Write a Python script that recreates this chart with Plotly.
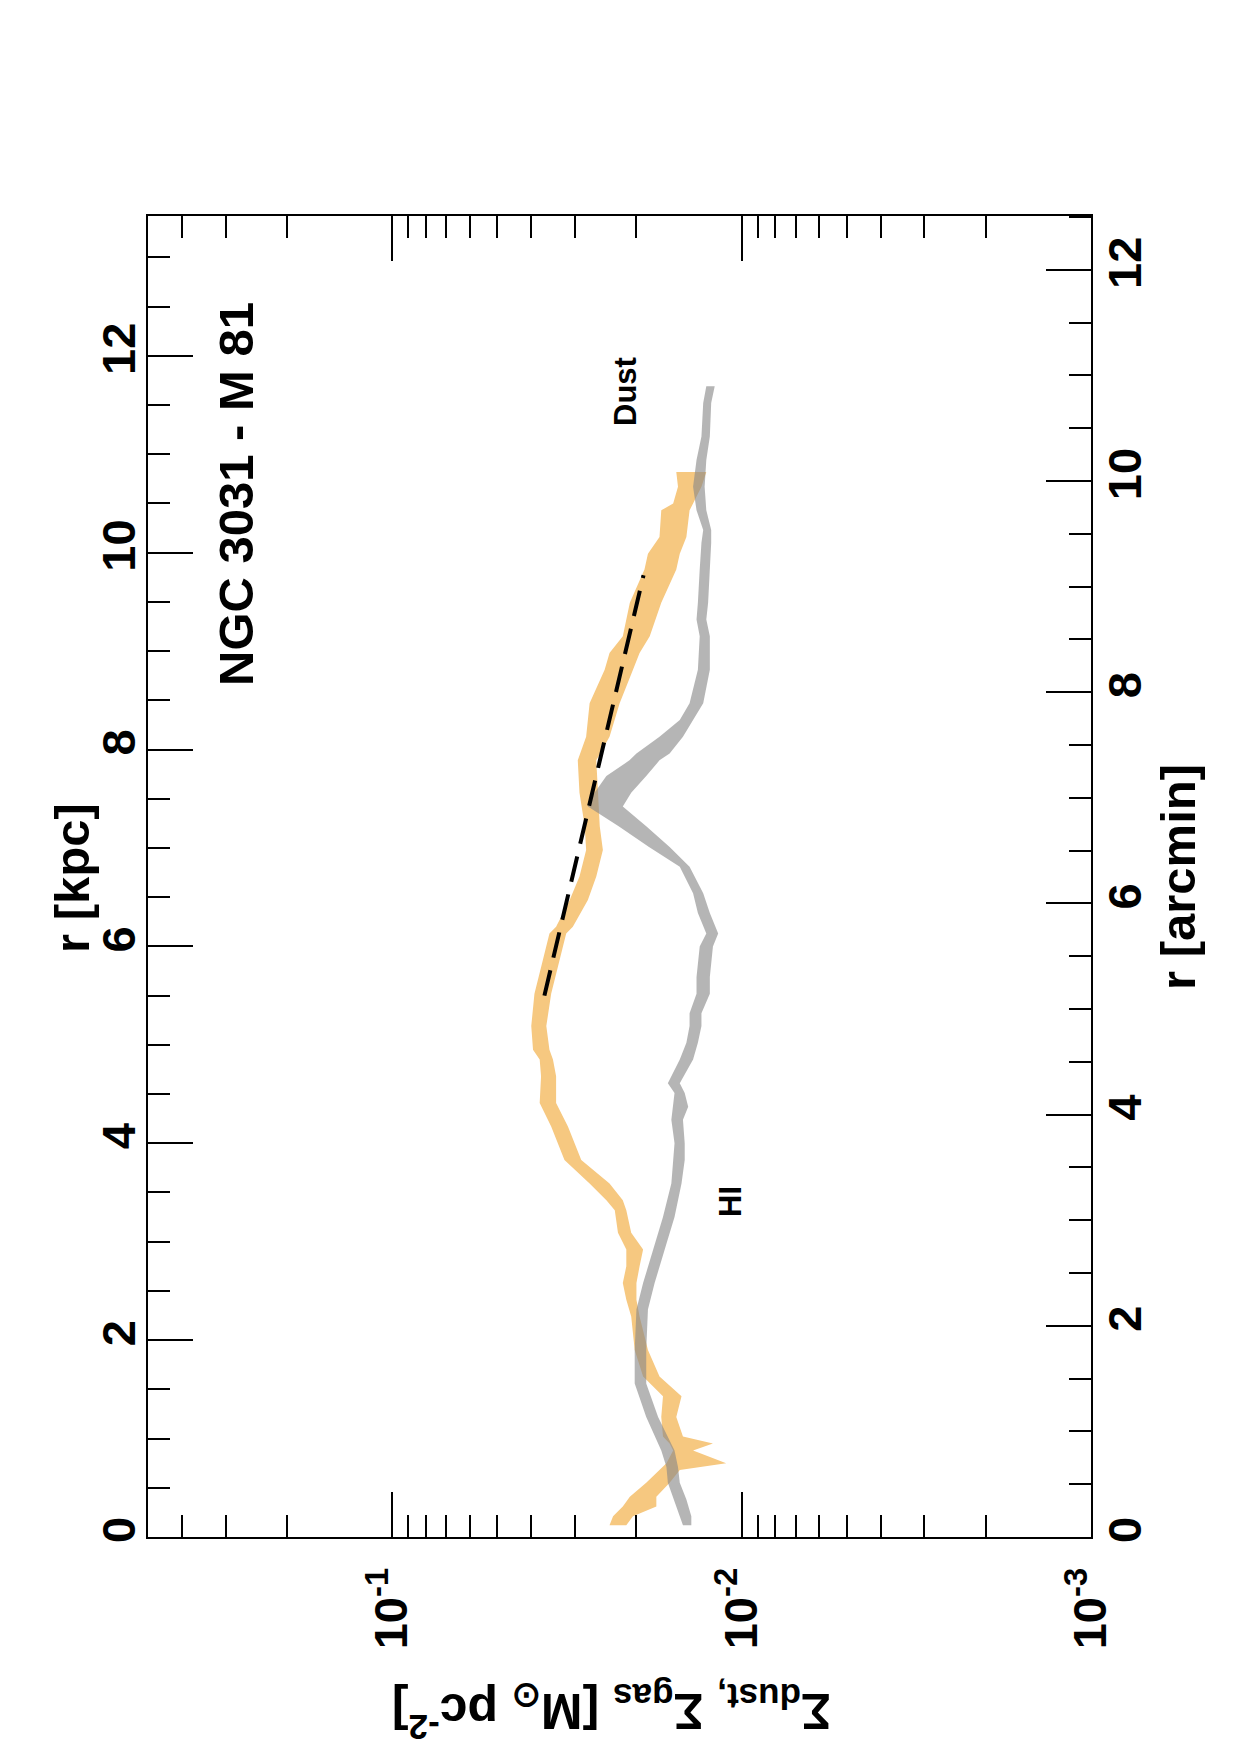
import plotly.graph_objects as go

# ---------------- data ----------------
# HI (grey band): radius [kpc], upper and lower surface density [Msun pc^-2]
r_hi = [0.12, 0.21, 0.38, 0.55, 0.71, 0.88, 1.22, 1.56, 1.90, 2.31, 2.58, 2.92,
        3.25, 3.59, 3.83, 4.00, 4.24, 4.37, 4.51, 4.61, 4.85, 5.02, 5.19, 5.32,
        5.52, 5.69, 6.00, 6.13, 6.34, 6.54, 6.81, 7.01, 7.22, 7.42, 7.56, 7.73,
        7.89, 7.96, 8.13, 8.30, 8.47, 8.81, 9.15, 9.32, 9.49, 9.83, 10.10, 10.23,
        10.43, 10.67, 10.94, 11.18, 11.52, 11.69]
hi_upper = [0.01472, 0.01503, 0.01570, 0.01626, 0.01641, 0.01698, 0.01875, 0.02023,
            0.02023, 0.02000, 0.01914, 0.01795, 0.01679, 0.01589, 0.01570, 0.01556,
            0.01589, 0.01570, 0.01556, 0.01626, 0.01503, 0.01439, 0.01409, 0.01409,
            0.01346, 0.01346, 0.01318, 0.01262, 0.01334, 0.01377, 0.01503, 0.01841,
            0.02249, 0.02754, 0.02636, 0.02438, 0.02094, 0.02000, 0.01718, 0.01503,
            0.01409, 0.01334, 0.01318, 0.01346, 0.01334, 0.01318, 0.01303, 0.01288,
            0.01346, 0.01377, 0.01346, 0.01303, 0.01288, 0.01262]
hi_lower = [0.01393, 0.01393, 0.01439, 0.01503, 0.01521, 0.01556, 0.01734, 0.01875,
            0.01875, 0.01854, 0.01774, 0.01660, 0.01556, 0.01486, 0.01455, 0.01455,
            0.01472, 0.01422, 0.01455, 0.01503, 0.01377, 0.01334, 0.01303, 0.01303,
            0.01233, 0.01233, 0.01208, 0.01167, 0.01233, 0.01288, 0.01409, 0.01607,
            0.01875, 0.02188, 0.02070, 0.01875, 0.01718, 0.01607, 0.01472, 0.01377,
            0.01288, 0.01233, 0.01233, 0.01262, 0.01247, 0.01233, 0.01222, 0.01222,
            0.01262, 0.01276, 0.01262, 0.01233, 0.01222, 0.01194]

# Dust (orange band)
r_dust = [0.12, 0.21, 0.31, 0.41, 0.55, 0.68, 0.75, 0.88, 0.95, 1.02, 1.22, 1.43,
          1.63, 1.90, 2.24, 2.41, 2.58, 2.75, 2.92, 3.09, 3.32, 3.42, 3.59, 3.83,
          4.17, 4.41, 4.68, 4.85, 4.95, 5.19, 5.52, 5.86, 6.13, 6.20, 6.47, 6.71,
          6.98, 7.22, 7.56, 7.89, 8.13, 8.47, 8.81, 8.98, 9.15, 9.49, 9.83, 9.99,
          10.16, 10.43, 10.50, 10.67, 10.82]
dust_upper = [0.02388, 0.02333, 0.02188, 0.02089, 0.01875, 0.01718, 0.01641, 0.01570,
              0.01607, 0.01679, 0.01698, 0.01679, 0.01914, 0.02023, 0.02070, 0.02138,
              0.02188, 0.02138, 0.02138, 0.02259, 0.02307, 0.02438, 0.02723, 0.03214,
              0.03508, 0.03784, 0.03750, 0.03784, 0.03954, 0.04000, 0.03917, 0.03707,
              0.03548, 0.03396, 0.03105, 0.02911, 0.02786, 0.02812, 0.02911, 0.02944,
              0.02786, 0.02723, 0.02466, 0.02388, 0.02188, 0.02089, 0.01897, 0.01854,
              0.01718, 0.01698, 0.01570, 0.01521, 0.01538]
dust_lower = [0.02138, 0.02046, 0.01754, 0.01754, 0.01607, 0.01503, 0.01107, 0.01377,
              0.01208, 0.01472, 0.01538, 0.01486, 0.01718, 0.01854, 0.01959, 0.02000,
              0.02000, 0.01959, 0.01914, 0.02070, 0.02138, 0.02188, 0.02388, 0.02877,
              0.03141, 0.03396, 0.03396, 0.03467, 0.03548, 0.03622, 0.03508, 0.03319,
              0.03177, 0.03041, 0.02754, 0.02606, 0.02495, 0.02547, 0.02576, 0.02606,
              0.02388, 0.02234, 0.02046, 0.01959, 0.01832, 0.01698, 0.01538, 0.01503,
              0.01439, 0.01409, 0.01377, 0.01303, 0.01262]

# Exponential fit (dashed line)
r_fit = [5.50, 9.77]
sigma_fit = [0.03668, 0.01909]

# Axis ticks
sigma_major = [0.1, 0.01, 0.001]
sigma_major_text = ["10<sup>-1</sup>", "10<sup>-2</sup>", "10<sup>-3</sup>"]
sigma_minor = [0.4, 0.3, 0.2, 0.09, 0.08, 0.07, 0.06, 0.05, 0.04, 0.03, 0.02,
               0.009, 0.008, 0.007, 0.006, 0.005, 0.004, 0.003, 0.002]
kpc_ticks = [0, 2, 4, 6, 8, 10, 12]
arcmin_ticks = [0, 2, 4, 6, 8, 10, 12]

# ---------------- layout geometry ----------------
W, H = 1240, 1755
PL, PR, PT, PB = 148, 1091, 216, 1537


def px(x):
    return (x - PL) / (PR - PL)


def py(y):
    return (PB - y) / (PB - PT)


FONT = "Liberation Sans, Arial, Helvetica, sans-serif"
ORANGE = "rgb(246,200,128)"
GREY = "rgba(135,135,135,0.62)"

fig = go.Figure()

fig.add_trace(go.Scatter(
    x=dust_upper + dust_lower[::-1], y=r_dust + r_dust[::-1],
    mode="lines", fill="toself", fillcolor=ORANGE, line=dict(width=0, color=ORANGE),
    showlegend=False, hoverinfo="skip"))

fig.add_trace(go.Scatter(
    x=hi_upper + hi_lower[::-1], y=r_hi + r_hi[::-1],
    mode="lines", fill="toself", fillcolor=GREY, line=dict(width=0, color=GREY),
    showlegend=False, hoverinfo="skip"))

fig.add_trace(go.Scatter(
    x=sigma_fit, y=r_fit, mode="lines",
    line=dict(color="black", width=4, dash="26px,13px"),
    showlegend=False, hoverinfo="skip"))

# dummy trace to activate the arcmin axis
fig.add_trace(go.Scatter(x=[None], y=[None], yaxis="y2", showlegend=False,
                         hoverinfo="skip"))

tickfont = dict(family=FONT, size=47, color="black")

fig.update_layout(
    width=W, height=H,
    margin=dict(l=PL, r=W - PR, t=PT, b=H - PB, pad=0),
    paper_bgcolor="white", plot_bgcolor="white",
    showlegend=False,
    xaxis=dict(
        type="log", range=[-0.301, -3.0],
        tickmode="array", tickvals=sigma_major,
        ticktext=["<b>%s</b>" % t for t in sigma_major_text],
        tickangle=-90, tickfont=tickfont,
        ticks="inside", ticklen=45, tickwidth=2, tickcolor="black",
        minor=dict(tickmode="array", tickvals=sigma_minor, ticks="inside",
                   ticklen=22, tickwidth=2, tickcolor="black", showgrid=False),
        showline=True, linecolor="black", linewidth=2, mirror="ticks",
        showgrid=False, zeroline=False, ticklabelstandoff=10,
    ),
    yaxis=dict(
        range=[0, 13.42],
        tickmode="array", tickvals=kpc_ticks,
        ticktext=["<b>%d</b>" % t for t in kpc_ticks],
        tickangle=-90, tickfont=tickfont,
        ticks="inside", ticklen=45, tickwidth=2, tickcolor="black",
        minor=dict(dtick=0.5, tick0=0, ticks="inside", ticklen=22, tickwidth=2,
                   tickcolor="black", showgrid=False),
        showline=True, linecolor="black", linewidth=2,
        showgrid=False, zeroline=False, ticklabelstandoff=-8,
    ),
    yaxis2=dict(
        overlaying="y", side="right", anchor="x",
        range=[0, 12.51],
        tickmode="array", tickvals=arcmin_ticks,
        ticktext=["<b>%d</b>" % t for t in arcmin_ticks],
        tickangle=-90, tickfont=tickfont,
        ticks="inside", ticklen=45, tickwidth=2, tickcolor="black",
        minor=dict(dtick=0.5, tick0=0, ticks="inside", ticklen=22, tickwidth=2,
                   tickcolor="black", showgrid=False),
        showline=True, linecolor="black", linewidth=2,
        showgrid=False, zeroline=False, ticklabelstandoff=-8,
    ),
)


def note(text, x, y, size, angle=-90):
    fig.add_annotation(
        text="<b>%s</b>" % text, x=px(x), y=py(y), xref="paper", yref="paper",
        showarrow=False, textangle=angle, xanchor="center", yanchor="middle",
        font=dict(family=FONT, size=size, color="black"))


note("r [kpc]", 72, 878, 49)
note("r [arcmin]", 1178, 877, 49)
note("NGC 3031 - M 81", 236, 494, 49)
note("Dust", 625, 392, 31)
note("HI", 730, 1202, 31)
note("Σ<sub>dust,</sub> Σ<sub>gas</sub> [M<sub>⊙</sub> pc<sup>-2</sup>]", 612, 1712, 50, angle=180)

fig.write_html("out.html")
